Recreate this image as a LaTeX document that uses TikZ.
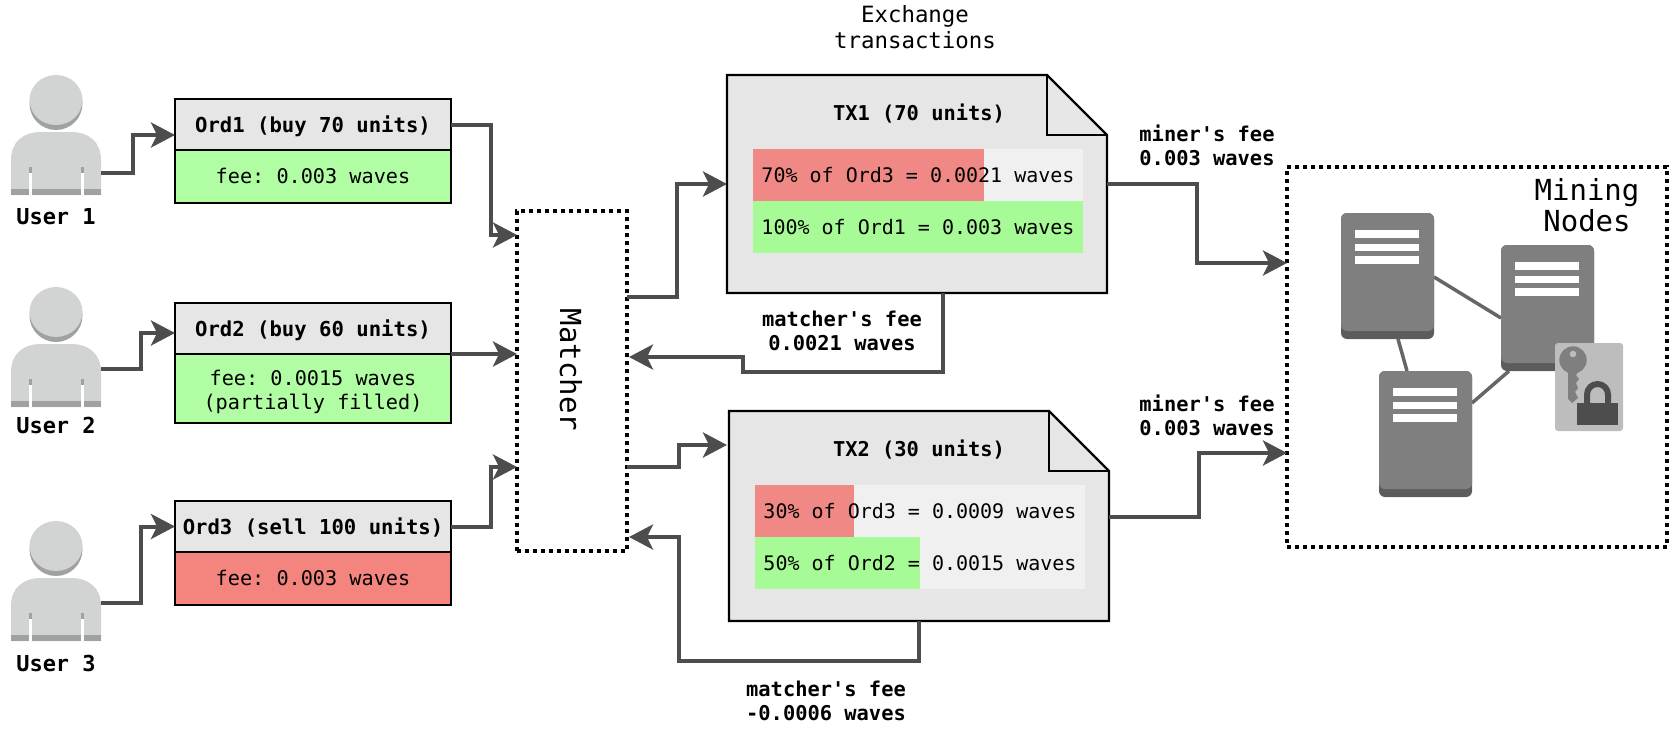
\documentclass[tikz,border=0pt]{standalone}
\usepackage{fontspec}
\setmainfont{DejaVu Sans Mono}
\usetikzlibrary{arrows.meta,positioning}
\definecolor{flowgray}{HTML}{4D4D4D}
\definecolor{headgray}{HTML}{E6E6E6}
\definecolor{rowgray}{HTML}{F0F0F0}
\definecolor{feegreen}{HTML}{B0FDA4}
\definecolor{feered}{HTML}{F4857E}
\definecolor{rowgreen}{HTML}{A6FB96}
\definecolor{rowred}{HTML}{F08986}
\definecolor{usergray}{HTML}{D2D3D3}
\definecolor{usershade}{HTML}{A0A1A1}
\definecolor{srvgray}{HTML}{7F7F7F}
\definecolor{srvshade}{HTML}{5C5C5C}
\definecolor{linkgray}{HTML}{666666}
\definecolor{tilegray}{HTML}{BDBDBD}
\tikzset{
  flow/.style={line width=4pt, draw=flowgray, -{Stealth[length=24pt,width=25pt,inset=6pt]}},
  link/.style={line width=3.5pt, draw=linkgray},
  ordhead/.style={draw, line width=2.2pt, fill=headgray, minimum width=276pt, minimum height=51pt, outer sep=0pt, text height=19pt, text depth=3pt, font=\fontsize{20.6}{24}\selectfont\bfseries},
  ordfee/.style={draw, line width=1.2pt, minimum width=276pt, outer sep=0pt, align=center, font=\fontsize{20.2}{24}\selectfont},
  dotbox/.style={draw, line width=4pt, dash pattern=on 4pt off 4pt, outer sep=0pt},
  rowbar/.style={minimum height=52pt, inner sep=0pt, outer sep=0pt},
  rowtxt/.style={font=\fontsize{20}{24}\selectfont, inner sep=0pt},
  boldtxt/.style={font=\fontsize{20.4}{24}\selectfont\bfseries, align=center, inner sep=0pt},
  usertxt/.style={font=\fontsize{22}{24}\selectfont\bfseries, inner sep=0pt},
  doc/.style={draw, line width=2.2pt, fill=headgray, line join=miter},
  iconbox/.style={minimum width=90pt, minimum height=120pt, inner sep=0pt, outer sep=0pt},
  srvbox/.style={minimum width=93pt, minimum height=126pt, inner sep=0pt, outer sep=0pt}
}
% person icon, (#1,#2) is the top left corner
\newcommand{\usericon}[2]{
  \begin{scope}[shift={(#1,#2)}]
    \fill[usergray] (0,85) .. controls (0,67) and (12,57) .. (30,57) -- (60,57) .. controls (78,57) and (90,67) .. (90,85) -- (90,120) -- (0,120) -- cycle;
    \fill[usershade] (0,114) rectangle (90,120);
    \fill[usershade] (18,92) rectangle (21,98);
    \fill[usershade] (70,92) rectangle (73,98);
    \fill[white] (18,98) rectangle (21,120);
    \fill[white] (70,98) rectangle (73,120);
    \fill[usershade] (45,28.5) circle[radius=26.5];
    \fill[usergray] (45,25) ellipse[x radius=26.5, y radius=25];
  \end{scope}
}
% server icon, (#1,#2) is the top left corner
\newcommand{\servericon}[2]{
  \begin{scope}[shift={(#1,#2)}]
    \fill[srvshade, rounded corners=6pt] (0,0) rectangle (93,126);
    \fill[srvgray, rounded corners=6pt] (0,0) rectangle (93,118);
    \fill[white] (14,17) rectangle (78,25);
    \fill[white] (14,30.5) rectangle (78,38);
    \fill[white] (14,43) rectangle (78,51);
  \end{scope}
}
\frenchspacing
\begin{document}
\begin{tikzpicture}[x=1pt, y=-1pt]
    \useasboundingbox (0,0) rectangle (1670,744);

    % Users
    \usericon{11}{75}
    \usericon{11}{287}
    \usericon{11}{521}
    \node[iconbox] (usr1) at (56,135) {};
    \node[iconbox] (usr2) at (56,347) {};
    \node[iconbox] (usr3) at (56,581) {};
    \node[usertxt] (usr1txt) at (56,217) {User 1};
    \node[usertxt] (usr2txt) at (56,425) {User 2};
    \node[usertxt] (usr3txt) at (56,663) {User 3};

    % Orders
    \node[ordhead] (ord1) at (313,124.5) {Ord1 (buy 70 units)};
    \node[ordfee, fill=feegreen, minimum height=53pt, text depth=2pt, below=0pt of ord1] (fee1) {fee: 0.003 waves};
    \node[ordhead] (ord2) at (313,328.5) {Ord2 (buy 60 units)};
    \node[ordfee, fill=feegreen, minimum height=69pt, below=0pt of ord2] (fee2) {\rule{0pt}{22pt}fee: 0.0015 waves\\(partially filled)};
    \node[ordhead] (ord3) at (313,526.5) {Ord3 (sell 100 units)};
    \node[ordfee, fill=feered, minimum height=53pt, text depth=2pt, below=0pt of ord3] (fee3) {fee: 0.003 waves};

    % Matcher and mining nodes
    \node[dotbox, minimum width=110pt, minimum height=340pt] (match) at (572,381) {};
    \node[rotate=-90, inner sep=0pt, font=\fontsize{29}{31}\selectfont] (matchtxt) at (571,370) {Matcher};
    \node[dotbox, minimum width=380pt, minimum height=380pt] (mine) at (1477,357) {};
    \node[align=center, inner sep=0pt, font=\fontsize{29}{31}\selectfont] (minetxt) at (1587,205.5) {Mining\\Nodes};

    % Transactions
    \node[align=center, inner sep=0pt, font=\fontsize{22.4}{26}\selectfont] (exch) at (915,27.5) {Exchange\\transactions};
    \node[minimum width=380pt, minimum height=218pt, inner sep=0pt, outer sep=0pt] (tx1) at (917,184) {};
    \node[minimum width=380pt, minimum height=210pt, inner sep=0pt, outer sep=0pt] (tx2) at (919,516) {};
    \draw[doc] (tx1.north west) -- ([xshift=-60pt]tx1.north east) -- ([yshift=-60pt]tx1.north east) -- (tx1.south east) -- (tx1.south west) -- cycle;
    \draw[doc, fill=none] ([xshift=-60pt]tx1.north east) |- ([yshift=-60pt]tx1.north east);
    \draw[doc] (tx2.north west) -- ([xshift=-60pt]tx2.north east) -- ([yshift=-60pt]tx2.north east) -- (tx2.south east) -- (tx2.south west) -- cycle;
    \draw[doc, fill=none] ([xshift=-60pt]tx2.north east) |- ([yshift=-60pt]tx2.north east);
    \node[boldtxt] (tx1txt) at (919,114) {TX1 (70 units)};
    \node[boldtxt] (tx2txt) at (919,450) {TX2 (30 units)};

    \node[rowbar, fill=rowgray, minimum width=330pt] (row11) at (918,175) {};
    \node[rowbar, fill=rowred, minimum width=231pt, right=0pt of row11.west] (bar11) {};
    \node[rowtxt] (txt11) at (row11) {70\% of Ord3 = 0.0021 waves};
    \node[rowbar, fill=rowgreen, minimum width=330pt, below=0pt of row11] (row12) {};
    \node[rowtxt] (txt12) at (row12) {100\% of Ord1 = 0.003 waves};

    \node[rowbar, fill=rowgray, minimum width=330pt] (row21) at (920,511) {};
    \node[rowbar, fill=rowred, minimum width=99pt, right=0pt of row21.west] (bar21) {};
    \node[rowtxt] (txt21) at (row21) {30\% of Ord3 = 0.0009 waves};
    \node[rowbar, fill=rowgray, minimum width=330pt, below=0pt of row21] (row22) {};
    \node[rowbar, fill=rowgreen, minimum width=165pt, right=0pt of row22.west] (bar22) {};
    \node[rowtxt] (txt22) at (row22) {50\% of Ord2 = 0.0015 waves};

    % Fee labels
    \node[boldtxt] (minfee1) at (1207,145) {miner\textquotesingle s fee\\0.003 waves};
    \node[boldtxt] (minfee2) at (1207,415) {miner\textquotesingle s fee\\0.003 waves};
    \node[boldtxt] (matfee1) at (842,331) {matcher\textquotesingle s fee\\0.0021 waves};
    \node[boldtxt] (matfee2) at (826,701) {matcher\textquotesingle s fee\\-0.0006 waves};

    % Servers
    \node[srvbox] (srv1) at (1387.5,276) {};
    \node[srvbox] (srv2) at (1547.5,308) {};
    \node[srvbox] (srv3) at (1425.5,434) {};
    \draw[link] ([yshift=-1pt]srv1.east) -- ([yshift=-10pt]srv2.west);
    \draw[link] ([xshift=10.5pt]srv1.south) -- ([xshift=-18.5pt]srv3.north);
    \draw[link] ([xshift=8pt]srv2.south west) -- ([yshift=-32pt]srv3.north east);
    \servericon{1341}{213}
    \servericon{1501}{245}
    \servericon{1379}{371}

    % Key and lock
    \node[fill=tilegray, rounded corners=3pt, minimum width=68pt, minimum height=88pt, inner sep=0pt] (tile) at (1589,387) {};
    \fill[srvgray] (1568,365) -- (1578,365) -- (1578,372) -- (1576,375) -- (1579,379) -- (1576,383) -- (1578,388) -- (1575,392) -- (1578,398) -- (1572,403) -- (1568,399) -- cycle;
    \fill[srvgray] (1573,360) circle[radius=13.7];
    \fill[tilegray] (1573,354) circle[radius=3.3];
    \draw[flowgray, line width=6pt] (1587,404) -- (1587,394.5) arc[start angle=180, end angle=360, radius=10.5] -- (1608,404);
    \fill[flowgray] (1577,403) rectangle (1618,425);

    % Draw the edges
    \path[flow] ([yshift=-38pt]usr1.east) -- ++(32,0) |- ([yshift=-10.5pt]ord1.west);
    \path[flow] ([yshift=-22pt]usr2.east) -- ++(40,0) |- ([yshift=-4.5pt]ord2.west);
    \path[flow] ([yshift=-22pt]usr3.east) -- ++(40,0) |- (ord3.west);
    \path[flow] (ord1.east) -- ++(40,0) |- ([yshift=146pt]match.west);
    \path[flow] (fee2.north east) -- (fee2.north east -| match.west);
    \path[flow] (ord3.east) -- ++(40,0) |- ([yshift=-86pt]match.west);
    \path[flow] ([yshift=84pt]match.east) -- ++(50,0) |- (tx1.west);
    \path[flow] ([yshift=-86pt]match.east) -- ++(52,0) |- ([xshift=-2pt,yshift=71pt]tx2.west);
    \path[flow] ([xshift=26pt]tx1.south) -- ++(0,79) -| ++(-200,-15) -- ([xshift=2pt,yshift=24pt]match.east);
    \path[flow] (tx2.south) -- ++(0,40) -| ++(-240,-124) -- ([xshift=2pt,yshift=-156pt]match.east);
    \path[flow] (tx1.east) -- ++(90,0) |- ([yshift=94pt]mine.west);
    \path[flow] ([yshift=-1pt]tx2.east) -- ++(90,0) |- ([yshift=-96pt]mine.west);
\end{tikzpicture}
\end{document}
